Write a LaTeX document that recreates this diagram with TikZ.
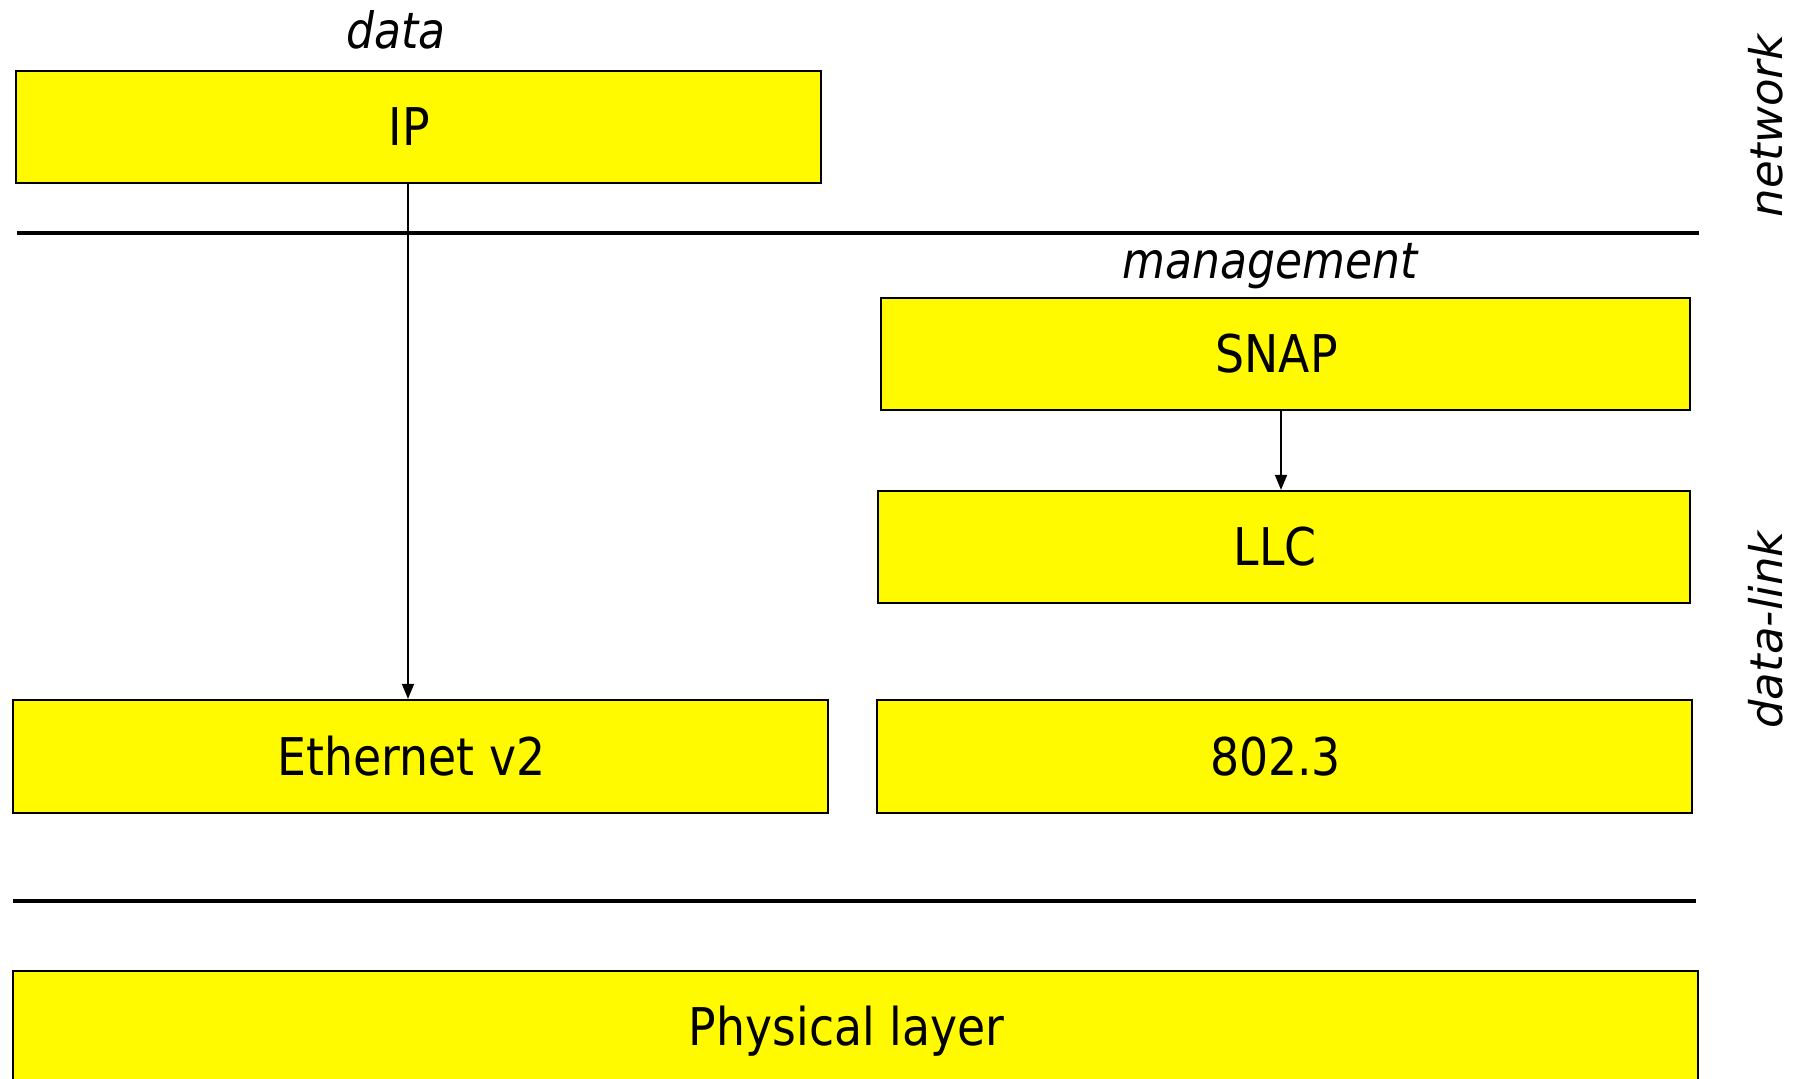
\documentclass[tikz,border=0pt]{standalone}
\usepackage{fontspec}
\setmainfont[FakeStretch=0.88]{DejaVu Sans}
\newfontfamily\sidefont{DejaVu Sans}
\usetikzlibrary{arrows.meta}
\definecolor{layerfill}{RGB}{255,250,0}
\tikzset{
  layer/.style={draw=black, line width=2.2pt, fill=layerfill, inner sep=0pt,
    font=\fontsize{52}{60}\selectfont,
    execute at begin node={\hspace*{-18pt}}},
  caption/.style={font=\fontsize{50}{60}\selectfont\itshape, inner sep=0pt},
  sidelabel/.style={font=\sidefont\fontsize{45}{54}\selectfont\itshape, rotate=90, inner sep=0pt},
  divider/.style={line width=3.5pt},
  flow/.style={line width=1.6pt, -{Triangle[length=15pt,width=12pt]}}
}
\begin{document}
\begin{tikzpicture}[x=1pt,y=1pt]
  \useasboundingbox (0,0) rectangle (1800,1079);
  \fill[white] (0,0) rectangle (1800,1079);

  % network layer
  \node[caption, anchor=base] (datalbl) at (396,1030) {data};
  \node[layer, minimum width=805pt, minimum height=112pt] (ip) at (418.5,952) {IP};

  % layer boundaries
  \coordinate (d1a) at (17,846);
  \coordinate (d1b) at (1699,846);
  \coordinate (d2a) at (13,178);
  \coordinate (d2b) at (1696,178);
  \draw[divider] (d1a) -- (d1b);
  \draw[divider] (d2a) -- (d2b);

  % data-link layer
  \node[caption, anchor=base] (mgmtlbl) at (1270,800) {management};
  \node[layer, minimum width=809pt, minimum height=112pt] (snap) at (1285.5,725) {SNAP};
  \node[layer, minimum width=812pt, minimum height=112pt] (llc) at (1284,532) {LLC};
  \node[layer, minimum width=815pt, minimum height=113pt] (eth) at (420.5,322.5) {Ethernet v2};
  \node[layer, minimum width=815pt, minimum height=113pt] (dot3) at (1284.5,322.5) {802.3};

  % physical layer
  \node[layer, minimum width=1685pt, minimum height=120pt] (phys) at (855.5,48) {Physical layer};

  % side labels
  \node[sidelabel] (netlbl) at (1766,953) {network};
  \node[sidelabel] (dllbl) at (1766,449) {data-link};

  % connectors
  \draw[flow] (ip.south -| 408,0) -- (eth.north -| 408,0);
  \draw[flow] (snap.south -| 1281,0) -- (llc.north -| 1281,0);
\end{tikzpicture}
\end{document}
